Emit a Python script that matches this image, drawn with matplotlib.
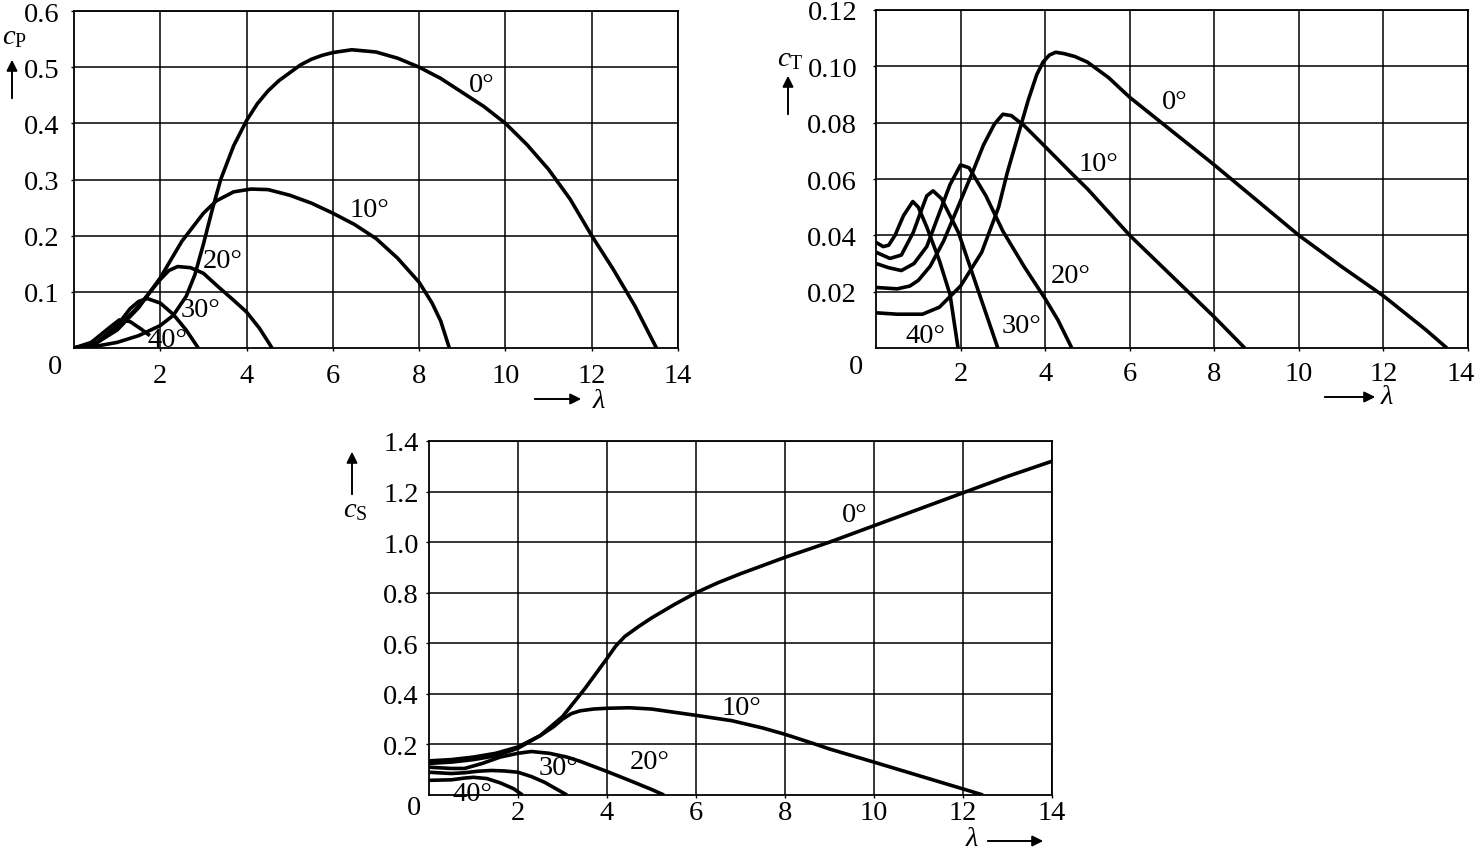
import matplotlib
matplotlib.use("Agg")
import matplotlib.pyplot as plt
from matplotlib.transforms import ScaledTranslation

# ---------------- data ----------------
# power coefficient cP vs tip speed ratio, pitch angles 0..40 deg
cp0_lam = [0, 0.5, 1, 1.5, 2, 2.3, 2.6, 2.8, 3.0, 3.2, 3.4, 3.7, 4.0, 4.25, 4.5, 4.75, 5, 5.25, 5.5, 5.75, 6, 6.44, 7, 7.5, 8, 8.5, 9, 9.5, 10, 10.5, 11, 11.5, 12, 12.5, 13, 13.5]
cp0_val = [0, 0.003, 0.01, 0.022, 0.04, 0.058, 0.092, 0.13, 0.185, 0.245, 0.30, 0.36, 0.405, 0.435, 0.458, 0.476, 0.49, 0.504, 0.514, 0.521, 0.526, 0.531, 0.527, 0.516, 0.50, 0.48, 0.455, 0.43, 0.40, 0.362, 0.318, 0.265, 0.20, 0.14, 0.075, 0]
cp10_lam = [0, 0.5, 1, 1.5, 2, 2.5, 3, 3.3, 3.7, 4.1, 4.5, 5, 5.5, 6, 6.5, 7, 7.5, 8, 8.3, 8.5, 8.7]
cp10_val = [0, 0.008, 0.032, 0.072, 0.125, 0.19, 0.24, 0.262, 0.278, 0.283, 0.282, 0.272, 0.258, 0.24, 0.22, 0.195, 0.16, 0.117, 0.08, 0.048, 0]
cp20_lam = [0, 0.5, 1, 1.5, 2, 2.2, 2.4, 2.7, 3.0, 3.3, 3.7, 4.0, 4.3, 4.59]
cp20_val = [0, 0.008, 0.035, 0.075, 0.122, 0.138, 0.145, 0.143, 0.133, 0.112, 0.085, 0.064, 0.035, 0]
cp30_lam = [0, 0.5, 1, 1.3, 1.5, 1.7, 2.0, 2.3, 2.6, 2.88]
cp30_val = [0, 0.008, 0.04, 0.07, 0.083, 0.088, 0.08, 0.06, 0.032, 0]
cp40_lam = [0, 0.4, 0.8, 1.05, 1.3, 1.55, 1.76]
cp40_val = [0, 0.01, 0.035, 0.05, 0.047, 0.034, 0.022]

# torque coefficient cT
ct0_lam = [0, 0.5, 1.1, 1.5, 2, 2.5, 2.9, 3.1, 3.33, 3.6, 3.8, 3.95, 4.1, 4.25, 4.45, 4.7, 5, 5.5, 6, 6.5, 7, 7.5, 8, 9, 10, 11, 12, 13, 13.5]
ct0_val = [0.0125, 0.012, 0.012, 0.0145, 0.022, 0.034, 0.05, 0.062, 0.074, 0.088, 0.097, 0.1015, 0.104, 0.105, 0.1045, 0.1035, 0.1015, 0.096, 0.089, 0.083, 0.077, 0.071, 0.065, 0.0525, 0.04, 0.029, 0.0185, 0.0065, 0]
ct10_lam = [0, 0.5, 0.8, 1.0, 1.28, 1.6, 1.95, 2.3, 2.54, 2.8, 3.0, 3.2, 3.5, 3.88, 4.66, 5, 6, 7, 8, 8.72]
ct10_val = [0.0215, 0.021, 0.022, 0.024, 0.029, 0.038, 0.0505, 0.063, 0.072, 0.0795, 0.083, 0.0825, 0.079, 0.0733, 0.0615, 0.0565, 0.040, 0.0255, 0.011, 0]
ct20_lam = [0, 0.3, 0.6, 0.9, 1.2, 1.5, 1.75, 2.0, 2.2, 2.6, 3.0, 3.5, 4.0, 4.3, 4.63]
ct20_val = [0.030, 0.0285, 0.0275, 0.030, 0.036, 0.048, 0.058, 0.065, 0.064, 0.054, 0.0415, 0.029, 0.0175, 0.010, 0]
ct30_lam = [0, 0.33, 0.6, 0.88, 1.05, 1.2, 1.35, 1.55, 1.75, 1.95, 2.38, 2.88]
ct30_val = [0.034, 0.0318, 0.033, 0.041, 0.048, 0.054, 0.0558, 0.053, 0.047, 0.041, 0.022, 0]
ct40_lam = [0, 0.17, 0.3, 0.45, 0.65, 0.87, 1.0, 1.2, 1.5, 1.75, 1.94]
ct40_val = [0.0375, 0.036, 0.0365, 0.040, 0.047, 0.052, 0.050, 0.043, 0.031, 0.019, 0]

# thrust coefficient cS
cs0_lam = [0, 0.5, 1, 1.5, 2, 2.5, 3, 3.5, 3.75, 4.0, 4.2, 4.4, 4.7, 5, 5.5, 6, 6.5, 7, 8, 9, 10, 11, 12, 13, 14]
cs0_val = [0.135, 0.14, 0.15, 0.165, 0.19, 0.235, 0.31, 0.42, 0.48, 0.54, 0.59, 0.627, 0.665, 0.70, 0.752, 0.80, 0.84, 0.875, 0.94, 1.0, 1.065, 1.13, 1.195, 1.26, 1.32]
cs10_lam = [0, 0.5, 1, 1.5, 2, 2.5, 2.8, 3.0, 3.2, 3.4, 3.7, 4, 4.5, 5, 6, 6.8, 7.5, 8, 8.7, 9, 10, 11, 12, 12.45]
cs10_val = [0.125, 0.13, 0.14, 0.155, 0.185, 0.235, 0.27, 0.30, 0.322, 0.333, 0.34, 0.343, 0.345, 0.34, 0.315, 0.294, 0.265, 0.24, 0.20, 0.182, 0.13, 0.077, 0.024, 0]
cs20_lam = [0, 0.5, 0.8, 1.2, 1.6, 2.0, 2.3, 2.7, 3.1, 3.4, 4.0, 4.5, 5.0, 5.28]
cs20_val = [0.11, 0.105, 0.105, 0.125, 0.15, 0.165, 0.172, 0.165, 0.15, 0.133, 0.093, 0.058, 0.022, 0]
cs30_lam = [0, 0.5, 0.8, 1.1, 1.4, 1.7, 2.0, 2.3, 2.6, 2.9, 3.1]
cs30_val = [0.09, 0.085, 0.088, 0.094, 0.097, 0.095, 0.09, 0.073, 0.05, 0.02, 0]
cs40_lam = [0, 0.5, 0.8, 1.0, 1.3, 1.6, 1.9, 2.1]
cs40_val = [0.058, 0.06, 0.067, 0.07, 0.065, 0.048, 0.025, 0]

pitch_labels = ["0°", "10°", "20°", "30°", "40°"]
cp_label_pos = [(9.46, 0.469), (6.84, 0.247), (3.45, 0.156), (2.94, 0.068), (2.16, 0.016)]
ct_label_pos = [(7.07, 0.0874), (5.27, 0.0654), (4.6, 0.0258), (3.44, 0.008), (1.17, 0.0044)]
cs_label_pos = [(9.57, 1.11), (7.03, 0.348), (4.97, 0.134), (2.9, 0.11), (0.97, 0.004)]

x_ticks = [2, 4, 6, 8, 10, 12, 14]
cp_ticks = [0.1, 0.2, 0.3, 0.4, 0.5, 0.6]
ct_ticks = [0.02, 0.04, 0.06, 0.08, 0.10, 0.12]
cs_ticks = [0.2, 0.4, 0.6, 0.8, 1.0, 1.2, 1.4]

# ---------------- style ----------------
plt.rcParams['font.family'] = ['Liberation Serif', 'DejaVu Serif']
plt.rcParams['mathtext.fontset'] = 'custom'
plt.rcParams['mathtext.rm'] = 'Liberation Serif'
plt.rcParams['mathtext.it'] = 'Liberation Serif:italic'

W, H = 1476, 854
fig = plt.figure(figsize=(W / 100, H / 100), dpi=100)
FS = 20.5
LW = 2.6


def ax_at(l, r, t, b):
    return fig.add_axes([l / W, 1 - b / H, (r - l) / W, (b - t) / H])


def fx(x, y):
    return (x / W, 1 - y / H)


def style(ax, ymax, yticks, fmt, xpad, ypad):
    ax.set_xlim(0, 14)
    ax.set_ylim(0, ymax)
    ax.set_xticks(x_ticks)
    ax.set_xticklabels([str(t) for t in x_ticks])
    ax.set_yticks(yticks)
    ax.set_yticklabels([fmt.format(t) for t in yticks])
    ax.grid(True, color='black', lw=1.1)
    for s in ax.spines.values():
        s.set_linewidth(1.3)
    ax.tick_params(direction='out', length=2.5, width=1, labelsize=FS)
    ax.tick_params(axis='x', pad=xpad)
    ax.tick_params(axis='y', pad=ypad)


def arrow(x0, y0, x1, y1):
    fig.add_artist(matplotlib.patches.FancyArrowPatch(
        fx(x0, y0), fx(x1, y1), transform=fig.transFigure,
        arrowstyle='-|>', mutation_scale=16, lw=1.4, color='black'))


# ---- cP ----
ax1 = ax_at(74, 678, 12, 349)
for lam, val in [(cp0_lam, cp0_val), (cp10_lam, cp10_val), (cp20_lam, cp20_val),
                 (cp30_lam, cp30_val), (cp40_lam, cp40_val)]:
    ax1.plot(lam, val, color='black', lw=LW, solid_capstyle='butt', solid_joinstyle='round')
style(ax1, 0.6, cp_ticks, "{:.1f}", 8, 8)
for txt, (x, y) in zip(pitch_labels, cp_label_pos):
    ax1.text(x, y, txt, fontsize=FS, ha='center', va='center')
fig.text(*fx(55, 368), "0", fontsize=FS, ha='center', va='center')
fig.text(*fx(14, 38), r"$c_{\mathrm{P}}$", fontsize=FS, ha='center', va='center')
arrow(12, 102, 12, 58)
arrow(532, 400, 584, 400)
fig.text(*fx(599, 402), "λ", fontsize=FS, style='italic', ha='center', va='center')

# ---- cT ----
ax2 = ax_at(876, 1468, 11, 349)
for lam, val in [(ct0_lam, ct0_val), (ct10_lam, ct10_val), (ct20_lam, ct20_val),
                 (ct30_lam, ct30_val), (ct40_lam, ct40_val)]:
    ax2.plot(lam, val, color='black', lw=LW, solid_capstyle='butt', solid_joinstyle='round')
style(ax2, 0.12, ct_ticks, "{:.2f}", 7, 11)
last = ax2.get_xticklabels()[-1]
last.set_transform(last.get_transform() + ScaledTranslation(-7 / 100, 0, fig.dpi_scale_trans))
for txt, (x, y) in zip(pitch_labels, ct_label_pos):
    ax2.text(x, y, txt, fontsize=FS, ha='center', va='center')
fig.text(*fx(856, 368), "0", fontsize=FS, ha='center', va='center')
fig.text(*fx(790, 60), r"$c_{\mathrm{T}}$", fontsize=FS, ha='center', va='center')
arrow(788, 118, 788, 74)
arrow(1322, 398, 1378, 398)
fig.text(*fx(1387, 398), "λ", fontsize=FS, style='italic', ha='center', va='center')

# ---- cS ----
ax3 = ax_at(429, 1052, 442, 796)
for lam, val in [(cs0_lam, cs0_val), (cs10_lam, cs10_val), (cs20_lam, cs20_val),
                 (cs30_lam, cs30_val), (cs40_lam, cs40_val)]:
    ax3.plot(lam, val, color='black', lw=LW, solid_capstyle='butt', solid_joinstyle='round')
style(ax3, 1.4, cs_ticks, "{:.1f}", 1, 5)
for txt, (x, y) in zip(pitch_labels, cs_label_pos):
    ax3.text(x, y, txt, fontsize=FS, ha='center', va='center')
fig.text(*fx(414, 809), "0", fontsize=FS, ha='center', va='center')
fig.text(*fx(355, 511), r"$c_{\mathrm{S}}$", fontsize=FS, ha='center', va='center')
arrow(352, 498, 352, 450)
fig.text(*fx(972, 840), "λ", fontsize=FS, style='italic', ha='center', va='center')
arrow(985, 842, 1046, 842)

fig.savefig("out.png", dpi=100)
